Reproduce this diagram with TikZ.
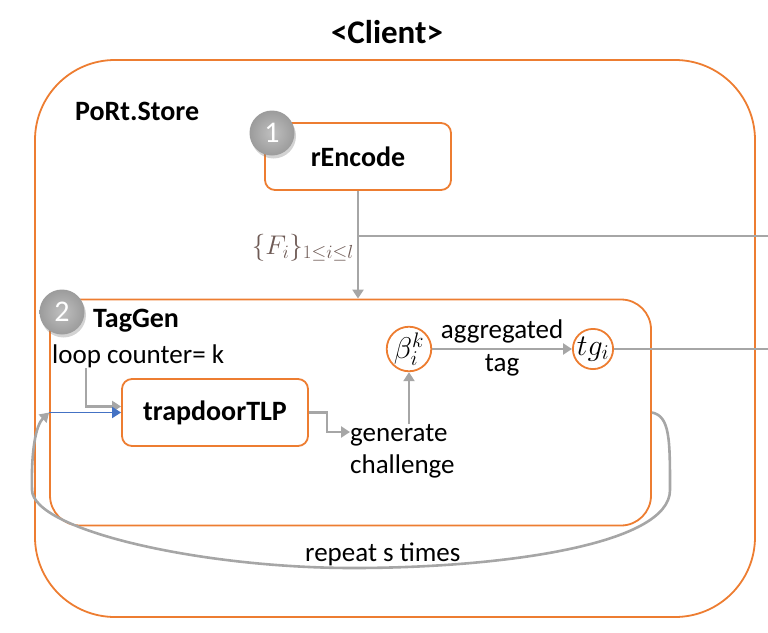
\RequirePackage{fix-cm}
\documentclass[tikz,border=0pt]{standalone}
\usepackage{fontspec}
\setmainfont{Carlito}
\usepackage{amsmath}
\usetikzlibrary{arrows.meta,shadows}
\definecolor{boxorange}{HTML}{ED7D31}
\definecolor{linegray}{HTML}{A6A6A6}
\definecolor{loopblue}{HTML}{4472C4}
\definecolor{setbrown}{HTML}{6E5A55}
\tikzset{
  mybox/.style={draw=boxorange,line width=1.8pt,rounded corners=10pt,inner sep=0pt},
  mycirc/.style={draw=boxorange,line width=1.8pt,circle,inner sep=0pt,minimum size=38pt,
    font=\fontsize{30}{34}\selectfont},
  mybadge/.style={circle,inner sep=0pt,minimum size=45pt,inner color=gray!50,outer color=gray!78,
    text=white,font=\fontsize{30}{34}\selectfont,
    drop shadow={opacity=0.35,shadow xshift=1.5pt,shadow yshift=-3pt}},
  myline/.style={draw=linegray,line width=2.6pt},
  myarrow/.style={myline,-{Triangle[width=11pt,length=9pt]}},
  mybold/.style={font=\fontsize{28}{34}\selectfont\bfseries}
}

\begin{document}
\begin{tikzpicture}[x=1pt,y=-1pt,font=\fontsize{27}{32}\selectfont]
        \useasboundingbox (0,0) rectangle (768,632);
        % boxes
        \node[mybox,rounded corners=80pt,minimum width=720pt,minimum height=557pt] (store) at (395,338.5) {};
        \node[mybox,rounded corners=30pt,minimum width=601pt,minimum height=226pt] (taggen) at (350.5,412.5) {};
        \node[mybox,minimum width=186pt,minimum height=67pt,mybold] (enc) at (358,156.5) {rEncode};
        \node[mybox,minimum width=186pt,minimum height=67pt,mybold] (trap) at (215,412.5) {trapdoorTLP};
        \node[mycirc] (beta) at (409,349) {$\beta_i^k$};
        \node[mycirc] (tg) at (593,349) {$tg_i$};

        % texts
        \node[font=\fontsize{33}{38}\selectfont\bfseries] (title) at (387,32) {<Client>};
        \node[mybold,anchor=west,inner sep=0pt] (storelbl) at (75,111) {PoRt.Store};
        \node[mybold,anchor=west,inner sep=0pt] (taglbl) at (93,321) {TagGen};
        \node[anchor=west,inner sep=0pt] (loop) at (52,356) {loop counter= k};
        \node[anchor=west,inner sep=0pt,align=left] (gen) at (350,451) {generate\\challenge};
        \node[anchor=south west,inner sep=0pt] (rep) at (305,566) {repeat s times};

        % badges
        \node[mybadge] (b1) at (272,133) {1};
        \node[mybadge] (b2) at (62,312) {2};

        % connectors
        \coordinate (fout) at (768,236);
        \coordinate (tgout) at (768,349);
        \draw[myarrow] (enc.south) -- (enc.south |- taggen.north)
        node[pos=0.53,left,text=setbrown,inner sep=3pt]{$\{F_i\}_{1\le i\le l}$};
        \draw[myline] ([xshift=1pt]enc.south |- fout) -- (fout);
        \draw[myarrow] ([xshift=34pt]loop.south west) |- ([yshift=6pt]trap.west);
        \draw[loopblue,line width=1.8pt,-{Triangle[width=11pt,length=9pt]}] (taggen.west |- trap) -- (trap.west);
        \draw[myarrow] (trap.east) -- ++(18,0) |- ([yshift=19pt]gen.west);
        \draw[myarrow] (beta.south |- gen.north) -- (beta.south);
        \draw[myarrow] (beta.east) -- (tg.west)
        node[midway,above=1pt]{aggregated}
        node[midway,below=1pt]{tag};
        \draw[myline] (tg.east) -- (tgout);
        \draw[myarrow] (taggen.east |- trap) .. controls (670,416) and (670,440) .. (670,490)
        .. controls (670,545) and (500,568) .. (353,568)
        .. controls (200,568) and (33,530) .. (32,490)
        .. controls (31,450) and (36,425) .. (taggen.west |- trap);
    \end{tikzpicture}
\end{document}
